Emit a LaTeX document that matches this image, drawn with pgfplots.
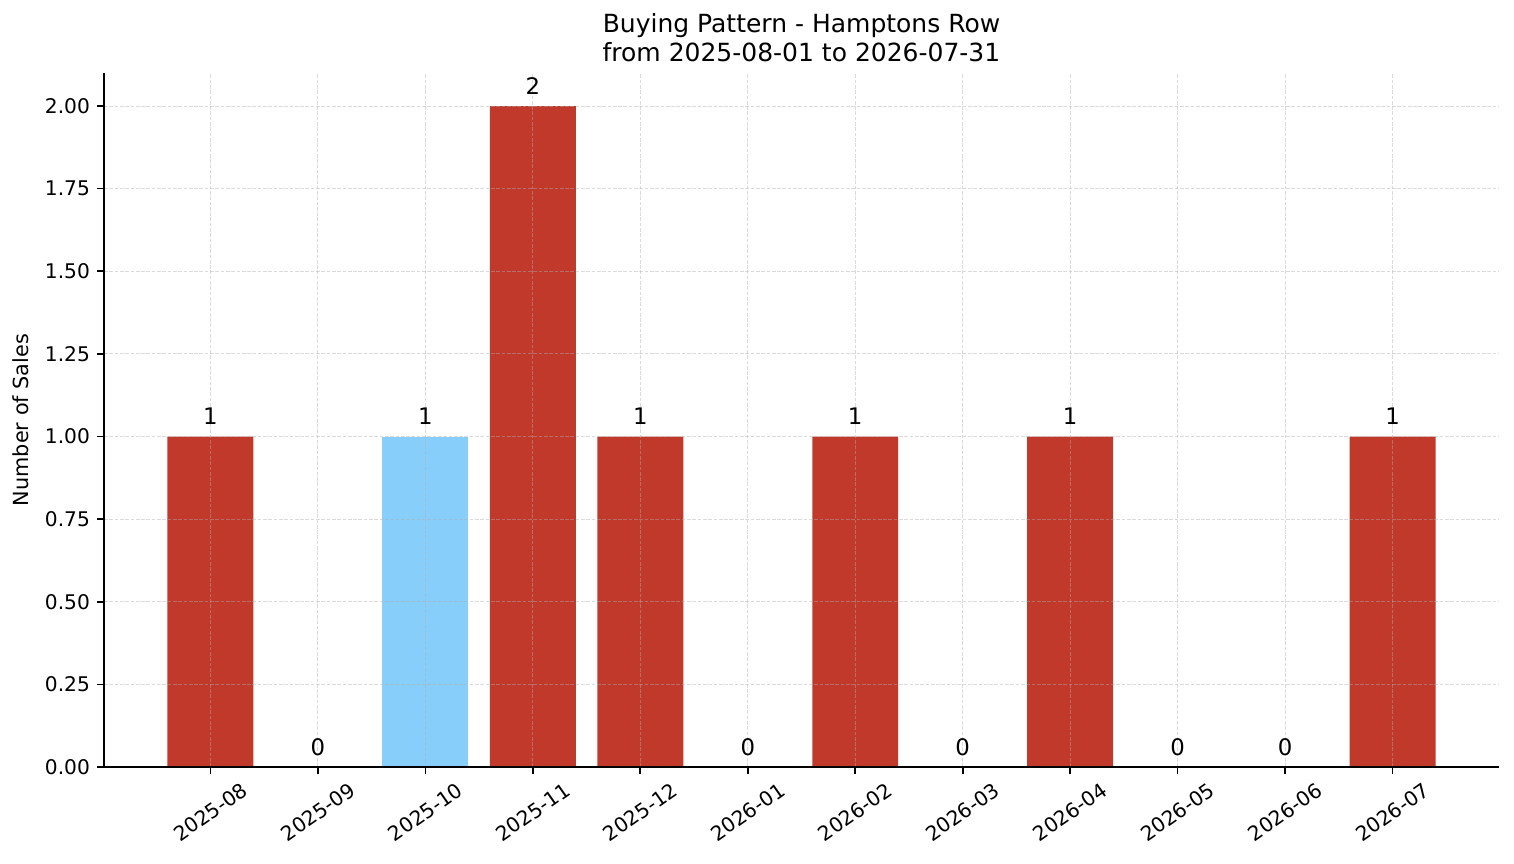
\documentclass[border=0pt]{standalone}
\usepackage{fontspec}
\setmainfont{DejaVu Sans}
\usepackage{pgfplots}
\pgfplotsset{compat=1.18}
\definecolor{barred}{HTML}{C0392B}
\definecolor{barblue}{HTML}{87CEFA}
\definecolor{gridc}{HTML}{B0B0B0}
\begin{document}
\begin{tikzpicture}
\path[use as bounding box] (-52pt,-48pt) rectangle (705pt,383.5pt);
\begin{axis}[
  at={(0,0)}, anchor=south west,
  scale only axis,
  width=697.5pt, height=347pt,
  xmin=-0.99, xmax=11.99,
  ymin=0, ymax=2.1,
  axis lines*=left,
  axis line style={line width=0.8pt, black},
  axis on top,
  tick align=outside,
  major tick length=3.5pt,
  every tick/.style={line width=0.8pt, black},
  /pgf/number format/assume math mode=true,
  xtick={0,1,2,3,4,5,6,7,8,9,10,11},
  xticklabels={2025-08,2025-09,2025-10,2025-11,2025-12,2026-01,2026-02,2026-03,2026-04,2026-05,2026-06,2026-07},
  ytick={0,0.25,0.5,0.75,1,1.25,1.5,1.75,2},
  yticklabel style={/pgf/number format/.cd, fixed, fixed zerofill, precision=2},
  ticklabel style={font=\fontsize{10.1}{12}\selectfont},
  xticklabel style={anchor=center, yshift=-19pt, rotate=35},
  grid=major,
  major grid style={draw=gridc, draw opacity=0.45, line width=0.5pt, dash pattern=on 1.85pt off 0.8pt},
  ylabel={Number of Sales},
  every axis y label/.style={at={(axis description cs:-0.0595,0.5)}, rotate=90, anchor=center, font=\fontsize{10.4}{12}\selectfont},
  title={Buying Pattern - Hamptons Row\\from 2025-08-01 to 2026-07-31},
  every axis title/.style={at={(axis description cs:0.5,1)}, anchor=south, inner sep=0pt, yshift=5.5pt, align=center, font=\fontsize{12.5}{14.5}\selectfont},
  ybar, bar width=0.8, bar shift=0pt,
  nodes near coords={\pgfmathprintnumber[assume math mode=true]{\pgfplotspointmeta}},
  every node near coord/.append style={anchor=base, inner sep=0pt, yshift=6pt, font=\fontsize{11.4}{13}\selectfont, text=black},
]
\addplot[fill=barred, draw=none] coordinates {(0,1) (1,0) (3,2) (4,1) (5,0) (6,1) (7,0) (8,1) (9,0) (10,0) (11,1)};
\addplot[fill=barblue, draw=none] coordinates {(2,1)};
\end{axis}
\end{tikzpicture}
\end{document}
